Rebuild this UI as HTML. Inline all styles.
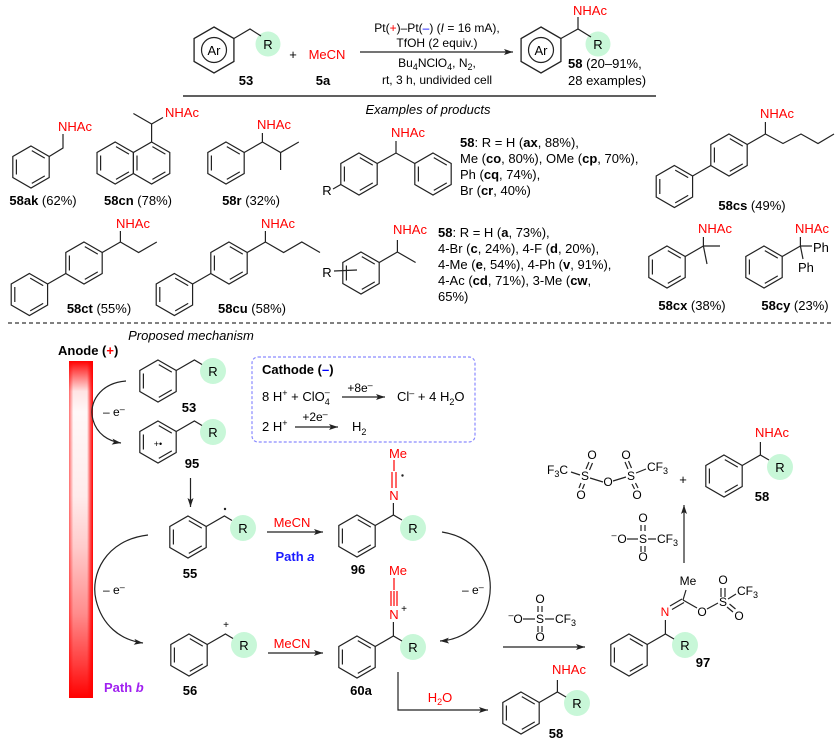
<!DOCTYPE html>
<html><head><meta charset="utf-8">
<style>
html,body{margin:0;padding:0;background:#fff;}
svg{display:block;}
text{font-family:"Liberation Sans",Arial,sans-serif;fill:#000;}
</style></head><body>
<svg width="838" height="741" viewBox="0 0 838 741" xmlns="http://www.w3.org/2000/svg">
<defs>
<g id="hex"><path d="M0,-21 L18.19,-10.5 L18.19,10.5 L0,21 L-18.19,10.5 L-18.19,-10.5 Z" fill="none" stroke="#222" stroke-width="1.2"/></g>
<g id="bz"><use href="#hex"/><path d="M-14.6,-7.5 V7.5 M0.8,-16.38 L13.79,-8.88 M13.79,8.88 L0.8,16.38" fill="none" stroke="#222" stroke-width="1.2"/></g>
<marker id="ah" markerUnits="userSpaceOnUse" markerWidth="10" markerHeight="7" refX="9" refY="3.5" orient="auto"><path d="M0,0.5 L9,3.5 L0,6.5 L2,3.5 Z" fill="#222"/></marker>
<linearGradient id="gv" x1="0" y1="0" x2="0" y2="1">
<stop offset="0" stop-color="#ff0000"/>
<stop offset="0.03" stop-color="#ff5050"/>
<stop offset="0.09" stop-color="#ffe4e4"/>
<stop offset="0.15" stop-color="#fff8f8"/>
<stop offset="0.4" stop-color="#ffecec"/>
<stop offset="0.55" stop-color="#ffcccc"/>
<stop offset="0.75" stop-color="#ff8c8c"/>
<stop offset="0.9" stop-color="#ff3c3c"/>
<stop offset="1" stop-color="#ff0000"/>
</linearGradient>
<linearGradient id="gh" x1="0" y1="0" x2="1" y2="0">
<stop offset="0" stop-color="#ff0000" stop-opacity="0.55"/>
<stop offset="0.18" stop-color="#ff0000" stop-opacity="0"/>
<stop offset="0.75" stop-color="#ff0000" stop-opacity="0"/>
<stop offset="0.88" stop-color="#ff0000" stop-opacity="0.6"/>
<stop offset="1" stop-color="#ff0000" stop-opacity="1"/>
</linearGradient>
</defs>

<!-- ================= TOP SCHEME ================= -->
<g fill="#c8f7d8">
<circle cx="268" cy="44" r="12.5"/>
<circle cx="598" cy="44" r="12.5"/>
</g>
<use href="#hex" transform="translate(214,50) scale(1.095)"/>
<use href="#hex" transform="translate(541,50) scale(1.095)"/>
<g stroke="#222" stroke-width="1.2" fill="none">
<circle cx="214" cy="50" r="12.5"/>
<circle cx="541" cy="50" r="12.5"/>
<polyline points="233.9,38.5 250,29 261,36"/>
<polyline points="560.9,38.5 578,29 591,37"/>
<line x1="578" y1="29" x2="578" y2="17"/>
<line x1="360" y1="52" x2="513" y2="52" marker-end="url(#ah)"/>
<line x1="183" y1="96" x2="656" y2="96" stroke="#000"/>
</g>
<text x="214" y="55" font-size="13" text-anchor="middle">Ar</text>
<text x="541" y="55" font-size="13" text-anchor="middle">Ar</text>
<text x="268" y="49" font-size="13" text-anchor="middle">R</text>
<text x="598" y="49" font-size="13" text-anchor="middle">R</text>
<text x="246" y="85" font-size="13" text-anchor="middle" font-weight="bold">53</text>
<text x="293" y="59" font-size="13" text-anchor="middle">+</text>
<text x="327" y="59" font-size="13" text-anchor="middle" style="fill:#f00">MeCN</text>
<text x="323" y="85" font-size="13" text-anchor="middle" font-weight="bold">5a</text>
<text x="437" y="32" font-size="12" text-anchor="middle">Pt(<tspan style="fill:#f00">+</tspan>)–Pt(<tspan style="fill:#00f">–</tspan>) (<tspan font-style="italic">I</tspan> = 16 mA),</text>
<text x="437" y="47" font-size="12" text-anchor="middle">TfOH (2 equiv.)</text>
<text x="437" y="67" font-size="12" text-anchor="middle">Bu<tspan font-size="9" dy="3">4</tspan><tspan dy="-3">NClO</tspan><tspan font-size="9" dy="3">4</tspan><tspan dy="-3">, N</tspan><tspan font-size="9" dy="3">2</tspan><tspan dy="-3">,</tspan></text>
<text x="437" y="84" font-size="12" text-anchor="middle">rt, 3 h, undivided cell</text>
<text x="573" y="15" font-size="13" style="fill:#f00">NHAc</text>
<text x="568" y="68" font-size="13"><tspan font-weight="bold">58</tspan> (20–91%,</text>
<text x="568" y="85" font-size="13">28 examples)</text>
<text x="428" y="114" font-size="13" text-anchor="middle" font-style="italic">Examples of products</text>

<!-- ================= ROW 1 ================= -->
<use href="#bz" transform="translate(31,167)"/>
<use href="#bz" transform="translate(115.2,163)"/>
<use href="#bz" transform="translate(151.6,163)"/>
<use href="#bz" transform="translate(226,163)"/>
<use href="#bz" transform="translate(359,174)"/>
<use href="#bz" transform="translate(433,174)"/>
<use href="#bz" transform="translate(729,155)"/>
<use href="#bz" transform="translate(674.4,186.5)"/>
<g stroke="#222" stroke-width="1.2" fill="none">
<polyline points="49.2,156.5 63,148 63,134"/>
<line x1="151.6" y1="142" x2="151.6" y2="124"/>
<line x1="151.6" y1="124" x2="133.4" y2="113.5"/>
<line x1="151.6" y1="124" x2="163" y2="117.5"/>
<polyline points="244.2,152.5 262.4,142 262.4,133"/>
<polyline points="262.4,142 280.6,152.5 298.8,142"/>
<line x1="280.6" y1="152.5" x2="280.6" y2="170"/>
<polyline points="377.2,163.5 396,153 414.8,163.5"/>
<line x1="396" y1="153" x2="396" y2="141"/>
<line x1="340.8" y1="184.5" x2="333" y2="189"/>
<line x1="710.8" y1="165.5" x2="692.6" y2="176"/>
<line x1="747.2" y1="144.5" x2="765.4" y2="134"/>
<line x1="765.4" y1="134" x2="765.4" y2="122"/>
<polyline points="765.4,134 783,143.5 801,134 818,143.5 834,134"/>
</g>
<g font-size="13" style="fill:#f00">
<text x="58" y="131" style="fill:#f00">NHAc</text>
<text x="165" y="117" style="fill:#f00">NHAc</text>
<text x="257" y="129" style="fill:#f00">NHAc</text>
<text x="391" y="137" style="fill:#f00">NHAc</text>
<text x="760" y="118" style="fill:#f00">NHAc</text>
</g>
<text x="327" y="195" font-size="13" text-anchor="middle">R</text>
<text x="43" y="205" font-size="13" text-anchor="middle"><tspan font-weight="bold">58ak</tspan> (62%)</text>
<text x="138" y="205" font-size="13" text-anchor="middle"><tspan font-weight="bold">58cn</tspan> (78%)</text>
<text x="251" y="205" font-size="13" text-anchor="middle"><tspan font-weight="bold">58r</tspan> (32%)</text>
<text x="752" y="210" font-size="13" text-anchor="middle"><tspan font-weight="bold">58cs</tspan> (49%)</text>
<g font-size="13">
<text x="460" y="147"><tspan font-weight="bold">58</tspan>: R = H (<tspan font-weight="bold">ax</tspan>, 88%),</text>
<text x="460" y="163">Me (<tspan font-weight="bold">co</tspan>, 80%), OMe (<tspan font-weight="bold">cp</tspan>, 70%),</text>
<text x="460" y="179">Ph (<tspan font-weight="bold">cq</tspan>, 74%),</text>
<text x="460" y="195">Br (<tspan font-weight="bold">cr</tspan>, 40%)</text>
</g>

<!-- ================= ROW 2 ================= -->
<use href="#bz" transform="translate(84,263)"/>
<use href="#bz" transform="translate(29.4,294.5)"/>
<use href="#bz" transform="translate(229,263)"/>
<use href="#bz" transform="translate(174.4,294.5)"/>
<use href="#bz" transform="translate(361,273)"/>
<use href="#bz" transform="translate(667,267)"/>
<use href="#bz" transform="translate(764,267)"/>
<g stroke="#222" stroke-width="1.2" fill="none">
<line x1="65.8" y1="273.5" x2="47.6" y2="284"/>
<line x1="102.2" y1="252.5" x2="120.4" y2="242"/>
<line x1="120.4" y1="242" x2="120.4" y2="231"/>
<polyline points="120.4,242 138.6,252.5 156.8,242"/>
<line x1="210.8" y1="273.5" x2="192.6" y2="284"/>
<line x1="247.2" y1="252.5" x2="265.4" y2="242"/>
<line x1="265.4" y1="242" x2="265.4" y2="231"/>
<polyline points="265.4,242 283.6,252.5 301.8,242 320,252.5"/>
<line x1="379.2" y1="262.5" x2="397.4" y2="252"/>
<line x1="397.4" y1="252" x2="397.4" y2="240"/>
<line x1="397.4" y1="252" x2="415.6" y2="262.5"/>
<line x1="334" y1="271" x2="357" y2="270"/>
<line x1="685.2" y1="256.5" x2="703.4" y2="246"/>
<line x1="703.4" y1="246" x2="703.4" y2="237"/>
<line x1="703.4" y1="246" x2="720" y2="246"/>
<line x1="703.4" y1="246" x2="707" y2="264"/>
<line x1="782.2" y1="256.5" x2="800.4" y2="246"/>
<line x1="800.4" y1="246" x2="800.4" y2="237"/>
<line x1="800.4" y1="246" x2="812" y2="246"/>
<line x1="800.4" y1="246" x2="803" y2="259"/>
<line x1="8" y1="323" x2="832" y2="323" stroke="#000" stroke-width="1" stroke-dasharray="4,3"/>
</g>
<g font-size="13">
<text x="116" y="228" style="fill:#f00">NHAc</text>
<text x="261" y="228" style="fill:#f00">NHAc</text>
<text x="393" y="234" style="fill:#f00">NHAc</text>
<text x="698" y="233" style="fill:#f00">NHAc</text>
<text x="795" y="233" style="fill:#f00">NHAc</text>
</g>
<text x="327" y="277" font-size="13" text-anchor="middle">R</text>
<text x="813" y="252" font-size="13">Ph</text>
<text x="798" y="272" font-size="13">Ph</text>
<text x="99" y="313" font-size="13" text-anchor="middle"><tspan font-weight="bold">58ct</tspan> (55%)</text>
<text x="252" y="313" font-size="13" text-anchor="middle"><tspan font-weight="bold">58cu</tspan> (58%)</text>
<text x="692" y="310" font-size="13" text-anchor="middle"><tspan font-weight="bold">58cx</tspan> (38%)</text>
<text x="795" y="310" font-size="13" text-anchor="middle"><tspan font-weight="bold">58cy</tspan> (23%)</text>
<g font-size="13">
<text x="438" y="237"><tspan font-weight="bold">58</tspan>: R = H (<tspan font-weight="bold">a</tspan>, 73%),</text>
<text x="438" y="253">4-Br (<tspan font-weight="bold">c</tspan>, 24%), 4-F (<tspan font-weight="bold">d</tspan>, 20%),</text>
<text x="438" y="269">4-Me (<tspan font-weight="bold">e</tspan>, 54%), 4-Ph (<tspan font-weight="bold">v</tspan>, 91%),</text>
<text x="438" y="285">4-Ac (<tspan font-weight="bold">cd</tspan>, 71%), 3-Me (<tspan font-weight="bold">cw</tspan>,</text>
<text x="438" y="301">65%)</text>
</g>
<text x="191" y="340" font-size="13" text-anchor="middle" font-style="italic">Proposed mechanism</text>

<!-- ================= MECHANISM ================= -->
<text x="58" y="355" font-size="13" font-weight="bold">Anode (<tspan style="fill:#f00">+</tspan>)</text>
<rect x="69" y="361" width="24" height="337" fill="url(#gv)"/>
<rect x="69" y="361" width="24" height="337" fill="url(#gh)"/>

<!-- green circles -->
<g fill="#c8f7d8">
<circle cx="213" cy="371" r="13"/>
<circle cx="213" cy="432" r="13"/>
<circle cx="243" cy="528" r="13"/>
<circle cx="413" cy="528" r="13"/>
<circle cx="244" cy="645" r="13"/>
<circle cx="413" cy="647" r="13"/>
<circle cx="685" cy="645" r="13"/>
<circle cx="780" cy="467" r="13"/>
<circle cx="577" cy="703" r="13"/>
</g>

<use href="#bz" transform="translate(158,381)"/>
<use href="#bz" transform="translate(158,442)"/>
<use href="#bz" transform="translate(188,537)"/>
<use href="#bz" transform="translate(357,536)"/>
<use href="#bz" transform="translate(189,655)"/>
<use href="#bz" transform="translate(357,657)"/>
<use href="#bz" transform="translate(629,655)"/>
<use href="#bz" transform="translate(724,476)"/>
<use href="#bz" transform="translate(521,713)"/>

<g stroke="#222" stroke-width="1.2" fill="none">
<!-- 53 / 95 chains -->
<polyline points="176.2,370.5 194.4,360 202,364.5"/>
<polyline points="176.2,431.5 194.4,421 202,425.5"/>
<!-- 53 -> 95 arc -->
<path d="M126,381 C100,383 88,403 93,420 C97,434 108,441 121,443" marker-end="url(#ah)"/>
<!-- 95 -> 55 -->
<line x1="190.5" y1="478" x2="190.5" y2="507" marker-end="url(#ah)"/>
<!-- 55 -->
<polyline points="206.2,526.5 224.4,516 232,520.5"/>
<!-- 55 -> 96 -->
<line x1="267" y1="532" x2="323" y2="532" marker-end="url(#ah)"/>
<!-- 96 -->
<polyline points="375.2,525.5 393.4,515 402,520"/>
<line x1="393.4" y1="515" x2="393.4" y2="503"/>
<!-- left arc 55->56 -->
<path d="M148,535 C105,540 90,575 96,600 C102,625 120,640 143,643" marker-end="url(#ah)"/>
<!-- right arc 96->60a -->
<path d="M442,532 C480,538 495,570 489,600 C484,625 462,640 440,641" marker-end="url(#ah)"/>
<!-- 56 -->
<polyline points="207.2,644.5 225.4,634 233,638.5"/>
<!-- 56 -> 60a -->
<line x1="268" y1="653" x2="323" y2="653" marker-end="url(#ah)"/>
<!-- 60a -->
<polyline points="375.2,646.5 393.4,636 402,641"/>
<line x1="393.4" y1="636" x2="393.4" y2="622"/>
<!-- H2O arrow -->
<polyline points="398,672 398,710 488,710" marker-end="url(#ah)"/>
<!-- 60a -> 97 -->
<line x1="503" y1="647" x2="585" y2="647" marker-end="url(#ah)"/>
<!-- 97 -->
<polyline points="647.2,644.5 665.4,634 674,639"/>
<line x1="665.4" y1="634" x2="665.4" y2="620"/>
<line x1="670" y1="606" x2="682" y2="599"/>
<line x1="672" y1="609.5" x2="684" y2="602.5"/>
<line x1="683" y1="600" x2="686" y2="590"/>
<line x1="683" y1="600" x2="697" y2="608"/>
<line x1="707" y1="609" x2="718" y2="603"/>
<line x1="721" y1="597" x2="721" y2="588"/>
<line x1="725" y1="597" x2="725" y2="588"/>
<line x1="727" y1="607" x2="733" y2="612"/>
<line x1="729.5" y1="604" x2="735.5" y2="609"/>
<line x1="728" y1="599" x2="736" y2="594"/>
<!-- up arrow -->
<line x1="684" y1="563" x2="684" y2="505" marker-end="url(#ah)"/>
<!-- triflate 1 -->
<line x1="538" y1="606" x2="538" y2="612"/>
<line x1="542" y1="606" x2="542" y2="612"/>
<line x1="538" y1="626" x2="538" y2="632"/>
<line x1="542" y1="626" x2="542" y2="632"/>
<line x1="523" y1="619" x2="535" y2="619"/>
<line x1="545" y1="619" x2="554" y2="619"/>
<!-- triflate 2 -->
<line x1="641" y1="525" x2="641" y2="531"/>
<line x1="645" y1="525" x2="645" y2="531"/>
<line x1="641" y1="546" x2="641" y2="552"/>
<line x1="645" y1="546" x2="645" y2="552"/>
<line x1="627" y1="539" x2="638" y2="539"/>
<line x1="648" y1="539" x2="656" y2="539"/>
<!-- Tf2O -->
<line x1="571" y1="472" x2="580" y2="475"/>
<line x1="586" y1="469" x2="589" y2="462"/>
<line x1="589.5" y1="470" x2="592.5" y2="463"/>
<line x1="581" y1="483" x2="579" y2="488"/>
<line x1="584.5" y1="484" x2="582.5" y2="489"/>
<line x1="590" y1="478" x2="603" y2="482"/>
<line x1="613" y1="481" x2="626" y2="477"/>
<line x1="628" y1="469" x2="625" y2="462"/>
<line x1="631.5" y1="468" x2="628.5" y2="461"/>
<line x1="632" y1="484" x2="634.5" y2="489"/>
<line x1="635.5" y1="483" x2="638" y2="488"/>
<line x1="636" y1="473" x2="646" y2="469"/>
<!-- 58 top right -->
<polyline points="742.2,465.5 760.4,455 769,460"/>
<line x1="760.4" y1="455" x2="760.4" y2="442"/>
<!-- 58 bottom -->
<polyline points="539.2,702.5 557.4,692 566,697"/>
<line x1="557.4" y1="692" x2="557.4" y2="680"/>
</g>

<!-- red bonds in 96 / 60a -->
<g stroke="#f00" stroke-width="1.2">
<line x1="394" y1="460" x2="394" y2="471"/>
<line x1="392" y1="472" x2="392" y2="488"/>
<line x1="396" y1="472" x2="396" y2="488"/>
<line x1="394" y1="578" x2="394" y2="590"/>
<line x1="391" y1="591" x2="391" y2="606"/>
<line x1="394" y1="591" x2="394" y2="606"/>
<line x1="397" y1="591" x2="397" y2="606"/>
</g>
<circle cx="402.5" cy="475.5" r="1.2" fill="#222"/>
<circle cx="225" cy="509" r="1.2" fill="#222"/>

<!-- Cathode box -->
<rect x="252" y="357" width="223" height="85" rx="6" fill="none" stroke="#8a8aff" stroke-width="1.2" stroke-dasharray="3,2"/>
<text x="262" y="374" font-size="13" font-weight="bold">Cathode (<tspan style="fill:#00f">–</tspan>)</text>
<text x="262" y="401" font-size="13">8 H<tspan font-size="9" dy="-5">+</tspan><tspan dy="5"> + ClO</tspan><tspan font-size="9" dy="4">4</tspan><tspan font-size="9" dx="-5" dy="-10">–</tspan></text>
<line x1="342" y1="397" x2="385" y2="397" stroke="#222" stroke-width="1.2" marker-end="url(#ah)"/>
<text x="360" y="392" font-size="12" text-anchor="middle">+8e<tspan font-size="9" dy="-4">–</tspan></text>
<text x="397" y="401" font-size="13">Cl<tspan font-size="9" dy="-5">–</tspan><tspan dy="5"> + 4 H</tspan><tspan font-size="9" dy="4">2</tspan><tspan dy="-4">O</tspan></text>
<text x="262" y="431" font-size="13">2 H<tspan font-size="9" dy="-5">+</tspan></text>
<line x1="295" y1="427" x2="338" y2="427" stroke="#222" stroke-width="1.2" marker-end="url(#ah)"/>
<text x="315" y="421" font-size="12" text-anchor="middle">+2e<tspan font-size="9" dy="-4">–</tspan></text>
<text x="352" y="431" font-size="13">H<tspan font-size="9" dy="4">2</tspan></text>

<!-- mechanism labels -->
<g font-size="13" text-anchor="middle">
<text x="213" y="376">R</text>
<text x="213" y="437">R</text>
<text x="243" y="533">R</text>
<text x="413" y="533">R</text>
<text x="244" y="650">R</text>
<text x="413" y="652">R</text>
<text x="685" y="650">R</text>
<text x="780" y="472">R</text>
<text x="577" y="708">R</text>
</g>
<g font-size="13" text-anchor="middle" font-weight="bold">
<text x="189" y="412">53</text>
<text x="192" y="468">95</text>
<text x="190" y="578">55</text>
<text x="358" y="574">96</text>
<text x="190" y="695">56</text>
<text x="361" y="695">60a</text>
<text x="703" y="667">97</text>
<text x="762" y="501">58</text>
<text x="556" y="738">58</text>
</g>
<text x="158" y="447" font-size="9" text-anchor="middle">+•</text>
<text x="226" y="628" font-size="10" text-anchor="middle">+</text>
<text x="103" y="416" font-size="12">– e<tspan font-size="9" dy="-4">–</tspan></text>
<text x="103" y="594" font-size="12">– e<tspan font-size="9" dy="-4">–</tspan></text>
<text x="462" y="594" font-size="12">– e<tspan font-size="9" dy="-4">–</tspan></text>
<text x="292" y="527" font-size="13" text-anchor="middle" style="fill:#f00">MeCN</text>
<text x="295" y="561" font-size="13" text-anchor="middle" font-weight="bold" style="fill:#1a1aff">Path <tspan font-style="italic" style="fill:#1a1aff">a</tspan></text>
<text x="292" y="648" font-size="13" text-anchor="middle" style="fill:#f00">MeCN</text>
<text x="104" y="692" font-size="13" font-weight="bold" style="fill:#a020f0">Path <tspan font-style="italic" style="fill:#a020f0">b</tspan></text>
<text x="398" y="458" font-size="13" text-anchor="middle" style="fill:#f00">Me</text>
<text x="394" y="500" font-size="13" text-anchor="middle" style="fill:#f00">N</text>
<text x="398" y="575" font-size="13" text-anchor="middle" style="fill:#f00">Me</text>
<text x="394" y="619" font-size="13" text-anchor="middle" style="fill:#f00">N</text>
<text x="404" y="612" font-size="10" text-anchor="middle">+</text>
<text x="440" y="702" font-size="13" text-anchor="middle" style="fill:#f00">H<tspan font-size="9" dy="3" style="fill:#f00">2</tspan><tspan dy="-3" style="fill:#f00">O</tspan></text>
<text x="755" y="437" font-size="13" style="fill:#f00">NHAc</text>
<text x="552" y="674" font-size="13" style="fill:#f00">NHAc</text>

<!-- triflate 1 -->
<g font-size="12" text-anchor="middle">
<text x="540" y="603">O</text>
<text x="540" y="623">S</text>
<text x="540" y="641">O</text>
<text x="518" y="623">O</text>
<text x="511" y="618" font-size="9">–</text>
</g>
<text x="555" y="623" font-size="12">CF<tspan font-size="9" dy="3">3</tspan></text>
<!-- triflate 2 -->
<g font-size="12" text-anchor="middle">
<text x="643" y="522">O</text>
<text x="643" y="543">S</text>
<text x="643" y="561">O</text>
<text x="622" y="543">O</text>
<text x="614" y="538" font-size="9">–</text>
</g>
<text x="657" y="543" font-size="12">CF<tspan font-size="9" dy="3">3</tspan></text>
<!-- Tf2O -->
<text x="547" y="474" font-size="12">F<tspan font-size="9" dy="3">3</tspan><tspan dy="-3">C</tspan></text>
<g font-size="12" text-anchor="middle">
<text x="585" y="480">S</text>
<text x="592" y="459">O</text>
<text x="581" y="499">O</text>
<text x="608" y="486">O</text>
<text x="631" y="480">S</text>
<text x="626" y="459">O</text>
<text x="637" y="499">O</text>
</g>
<text x="647" y="471" font-size="12">CF<tspan font-size="9" dy="3">3</tspan></text>
<text x="683" y="484" font-size="13" text-anchor="middle">+</text>
<!-- 97 atoms -->
<g font-size="12" text-anchor="middle">
<text x="665" y="616" style="fill:#f00">N</text>
<text x="688" y="585">Me</text>
<text x="702" y="616">O</text>
<text x="723" y="606">S</text>
<text x="723" y="584">O</text>
<text x="739" y="620">O</text>
</g>
<text x="737" y="595" font-size="12">CF<tspan font-size="9" dy="3">3</tspan></text>
</svg>
</body></html>
